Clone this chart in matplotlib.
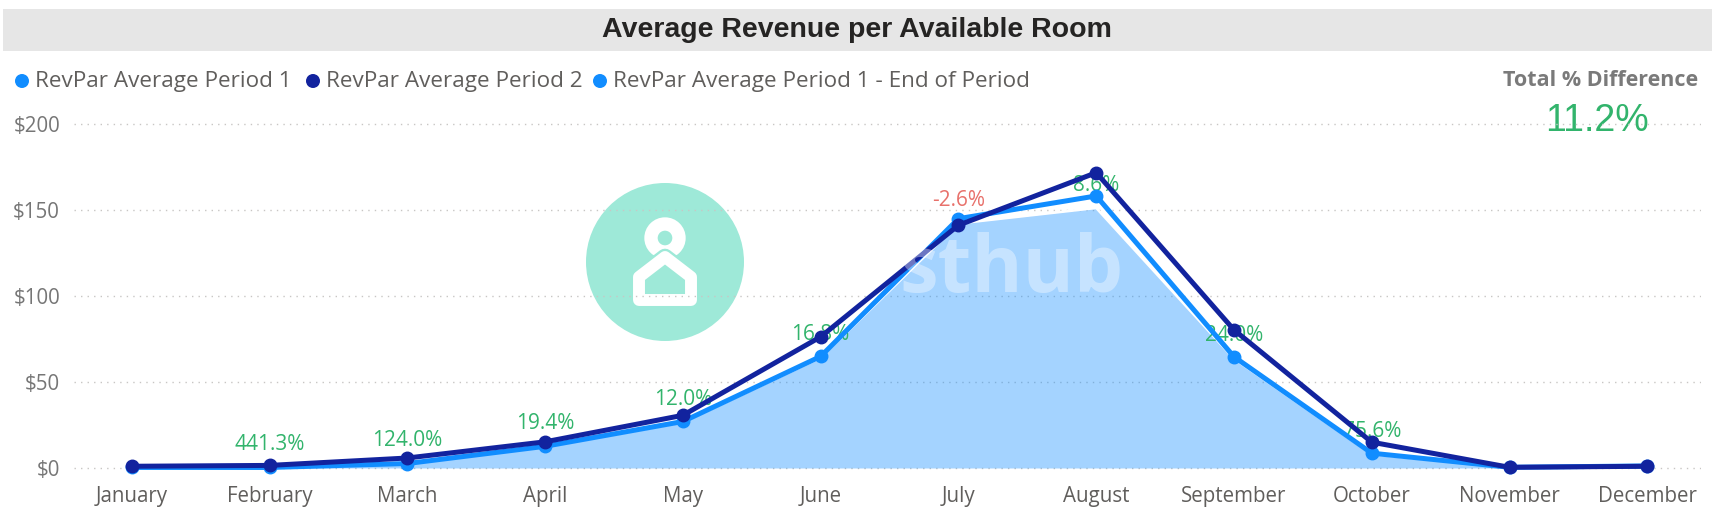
import numpy as np
import matplotlib
matplotlib.use("Agg")
import matplotlib.pyplot as plt
from matplotlib.patches import Rectangle, Circle, Polygon
from matplotlib.ticker import FuncFormatter

# ---- data ----
months = ["January", "February", "March", "April", "May", "June",
          "July", "August", "September", "October", "November", "December"]
revpar_p1 = [0.3, 0.3, 2.6, 12.6, 27.0, 64.8, 144.8, 158.0, 64.6, 8.6, 0.4, 1.2]
revpar_p2 = [1.0, 1.5, 5.8, 15.2, 30.6, 76.2, 141.0, 171.5, 80.2, 15.0, 0.4, 1.0]
revpar_end = [0.3, 0.3, 2.5, 12.3, 26.6, 64.0, 142.0, 151.0, 63.5, 8.0, 0.4, 2.0]
diff_pct = [None, 441.3, 124.0, 19.4, 12.0, 16.8, -2.6, 8.6, 24.0, 75.6, None, None]
series_names = ["RevPar Average Period 1", "RevPar Average Period 2",
                "RevPar Average Period 1 - End of Period"]
yticks = [0, 50, 100, 150, 200]
total_diff = 11.2
title = "Average Revenue per Available Room"

C_P1 = "#118DFF"
C_P2 = "#12239E"
GREEN = "#32b46c"
RED = "#e8716b"
GREY = "#605e5c"

W, H = 1715, 526
fig = plt.figure(figsize=(W / 100, H / 100), dpi=100)

# background layer in pixel coords (title bar, legend, logo)
bg = fig.add_axes([0, 0, 1, 1], zorder=0)
bg.set_xlim(0, W)
bg.set_ylim(H, 0)
bg.axis("off")

bg.add_patch(Rectangle((3, 9), 1709, 42, color="#e6e6e6", lw=0))
bg.text(857, 30, title, ha="center", va="center", fontsize=20.5,
        fontweight="bold", family="Liberation Sans", color="#252423")

# legend
leg_x = [22, 313, 600]
for lx, name, c in zip(leg_x, series_names, [C_P1, C_P2, C_P1]):
    bg.add_patch(Circle((lx, 81), 7, color=c, lw=0))
    bg.text(lx + 13, 81, name, ha="left", va="center", fontsize=16.2,
            family="Open Sans", color=GREY)

bg.text(1698, 80, "Total % Difference", ha="right", va="center", fontsize=15.5,
        fontweight="bold", family="Open Sans", color="#7a7a7a")
bg.text(1597, 121, f"{total_diff:.1f}%", ha="center", va="center", fontsize=27,
        family=["Liberation Sans Narrow", "Liberation Sans"], color=GREEN)

# logo watermark
teal = "#9ee9d8"
bg.add_patch(Circle((665, 262), 79, color=teal, lw=0))
bg.add_patch(Circle((665, 238), 14, fill=False, ec="white", lw=9.6))
house = [(639, 300), (691, 300), (691, 277), (665, 257), (639, 277)]
bg.add_patch(Polygon(house, closed=True, fill=False, ec=teal, lw=12, joinstyle="round"))
bg.add_patch(Polygon(house, closed=True, fill=False, ec="white", lw=8.6, joinstyle="round"))

# main chart
x0, x1, ytop, ybot = 74, 1701, 115, 476.6
ax = fig.add_axes([x0 / W, 1 - ybot / H, (x1 - x0) / W, (ybot - ytop) / H], zorder=1)
ax.set_facecolor("none")
x = np.arange(len(months))

ax.fill_between(x, 0, revpar_end, color=C_P1, alpha=0.38, lw=0, zorder=2)
ax.plot(x, revpar_end, color="white", lw=1.8, zorder=2.5)
ax.plot(x, revpar_p1, color=C_P1, lw=3.6, marker="o", ms=9, zorder=3)
ax.plot(x, revpar_p2, color=C_P2, lw=3.6, marker="o", ms=9, zorder=4)

for i, v in enumerate(diff_pct):
    if v is None:
        continue
    ax.annotate(f"{v:.1f}%", (x[i], revpar_end[i]), xytext=(0, 16.5),
                textcoords="offset points", ha="center", va="center",
                fontsize=15, family="Open Sans",
                color=RED if v < 0 else GREEN, zorder=2.8)

ax.set_xlim(-0.42, 11.39)
ax.set_ylim(-5, 205)
ax.set_xticks(x, months)
ax.set_yticks(yticks)
ax.yaxis.set_major_formatter(FuncFormatter(lambda v, p: f"${v:.0f}"))
ax.yaxis.grid(True, color="#c8c6c4", lw=1.0, linestyle=(0, (1, 3.7)))
ax.set_axisbelow(True)
for s in ax.spines.values():
    s.set_visible(False)
ax.tick_params(axis="x", length=0, pad=7, labelsize=14.8, labelcolor=GREY)
ax.tick_params(axis="y", length=0, pad=10, labelsize=14.8, labelcolor="#767676")
for lbl in ax.get_xticklabels() + ax.get_yticklabels():
    lbl.set_family("Open Sans")

# faint brand text on top
fig.text(1012, 292, "sthub", transform=bg.transData, ha="center", va="baseline",
         fontsize=56, fontweight="bold", family="Open Sans", color="white",
         alpha=0.38, zorder=10)

fig.savefig("out.png", dpi=100)
